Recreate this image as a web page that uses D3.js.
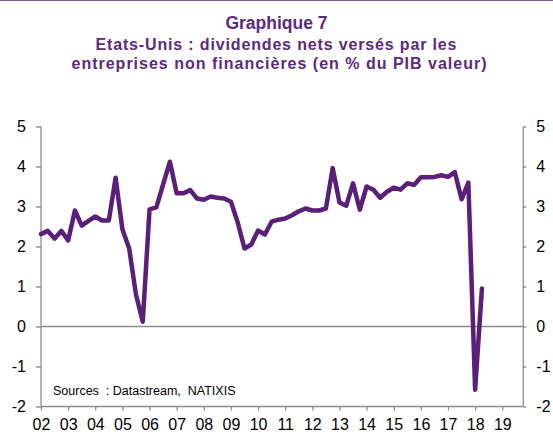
<!DOCTYPE html>
<html>
<head>
<meta charset="utf-8">
<script src="https://cdn.jsdelivr.net/npm/d3@7"></script>
<style>
  html, body { margin: 0; padding: 0; background: #fff; }
  svg { display: block; font-family: Arial, "Liberation Sans", sans-serif; }
</style>
</head>
<body>
<svg id="chart" width="553" height="435"></svg>
<script>
// Title lines
const titleLines = [
  "Graphique 7",
  "Etats-Unis : dividendes nets versés par les",
  "entreprises non financières (en % du PIB valeur)"
];
const sourceText = "Sources  : Datastream,  NATIXIS";

// Quarterly series starting 2002 Q1
const startYear = 2002;
const values = [
  2.31, 2.39, 2.20, 2.39,   // 2002
  2.15, 2.90, 2.52, 2.64,   // 2003
  2.75, 2.65, 2.65, 3.72,   // 2004
  2.43, 1.95, 0.80, 0.12,   // 2005
  2.93, 2.98, 3.55, 4.12,   // 2006
  3.33, 3.33, 3.41, 3.20,   // 2007
  3.17, 3.25, 3.22, 3.20,   // 2008
  3.12, 2.60, 1.95, 2.05,   // 2009
  2.40, 2.30, 2.62, 2.67,   // 2010
  2.70, 2.78, 2.88, 2.95,   // 2011
  2.90, 2.90, 2.95, 3.96,   // 2012
  3.10, 3.02, 3.58, 2.92,   // 2013
  3.50, 3.42, 3.22, 3.37,   // 2014
  3.47, 3.42, 3.58, 3.54,   // 2015
  3.73, 3.73, 3.74, 3.78,   // 2016
  3.74, 3.86, 3.18, 3.60,   // 2017
  -1.58, 0.95               // 2018
];
const yTicks = [-2, -1, 0, 1, 2, 3, 4, 5];
const xTickYears = d3.range(2002, 2020);
const xTickLabels = xTickYears.map(y => String(y % 100).padStart(2, "0"));

const svg = d3.select("#chart");
const purple = "#5a1f78";
const titleColor = "#5b2a80";
const axisColor = "#8c8c8c";

// top border line
svg.append("line").attr("x1", 0).attr("x2", 553).attr("y1", 0.5).attr("y2", 0.5)
  .attr("stroke", "#7d5b95").attr("stroke-width", 1.2);

// titles
const titleStyle = [
  { y: 28.5, size: 17.5, cx: 276.5, len: null },
  { y: 50, size: 16, cx: 276, len: 361 },
  { y: 69, size: 16, cx: 279, len: 415 }
];
titleLines.forEach((t, i) => {
  const s = titleStyle[i];
  const el = svg.append("text").attr("y", s.y)
    .attr("font-weight", "bold")
    .attr("font-size", s.size).attr("fill", titleColor).text(t);
  if (s.len) {
    el.attr("x", s.cx - s.len / 2).attr("textLength", s.len).attr("lengthAdjust", "spacing");
  } else {
    el.attr("x", s.cx).attr("text-anchor", "middle");
  }
});

const x = d3.scaleLinear().domain([2002, 2019.775]).range([41, 523.3]);
const y = d3.scaleLinear().domain([-2, 5]).range([406.5, 126.5]);

const fmt = d => String(d);
// left axis
const gL = svg.append("g").attr("transform", "translate(41,0)")
  .call(d3.axisLeft(y).tickValues(yTicks).tickSize(5).tickPadding(10).tickFormat(fmt));
// right axis
const gR = svg.append("g").attr("transform", "translate(523.3,0)")
  .call(d3.axisRight(y).tickValues(yTicks).tickSize(3).tickPadding(10).tickFormat(fmt));
// bottom axis
const gB = svg.append("g").attr("transform", "translate(0,406.5)")
  .call(d3.axisBottom(x).tickValues(xTickYears).tickSize(4).tickPadding(6)
    .tickFormat((d, i) => xTickLabels[i]));

[gL, gR, gB].forEach(g => {
  g.select(".domain").attr("stroke", axisColor).attr("stroke-width", 1.3);
  g.selectAll(".tick line").attr("stroke", axisColor).attr("stroke-width", 1.3);
  g.selectAll(".tick text").attr("fill", "#000").attr("font-size", 16)
    .attr("font-family", "Arial, 'Liberation Sans', sans-serif");
});
gL.select(".domain").attr("d", `M0,${y(5)}V${y(-2)}`);
gR.select(".domain").attr("d", `M0,${y(5)}V${y(-2)}`);
gB.select(".domain").attr("d", `M${x(2002)},0H${x(2019.775)}`);
gB.selectAll(".tick text").attr("dy", "0.85em");

// zero line
svg.append("line").attr("x1", x(2002)).attr("x2", x(2019.775))
  .attr("y1", y(0)).attr("y2", y(0))
  .attr("stroke", axisColor).attr("stroke-width", 1.3);

// series line
const pts = values.map((v, i) => [startYear + i / 4, v]);
svg.append("path").datum(pts)
  .attr("fill", "none").attr("stroke", purple).attr("stroke-width", 4.5)
  .attr("stroke-linejoin", "round").attr("stroke-linecap", "round")
  .attr("d", d3.line().x(d => x(d[0])).y(d => y(d[1])));

// source
svg.append("text").attr("x", 53).attr("y", 395)
  .attr("font-size", 12.5).attr("fill", "#000").text(sourceText)
  .style("white-space", "pre");
</script>
</body>
</html>
